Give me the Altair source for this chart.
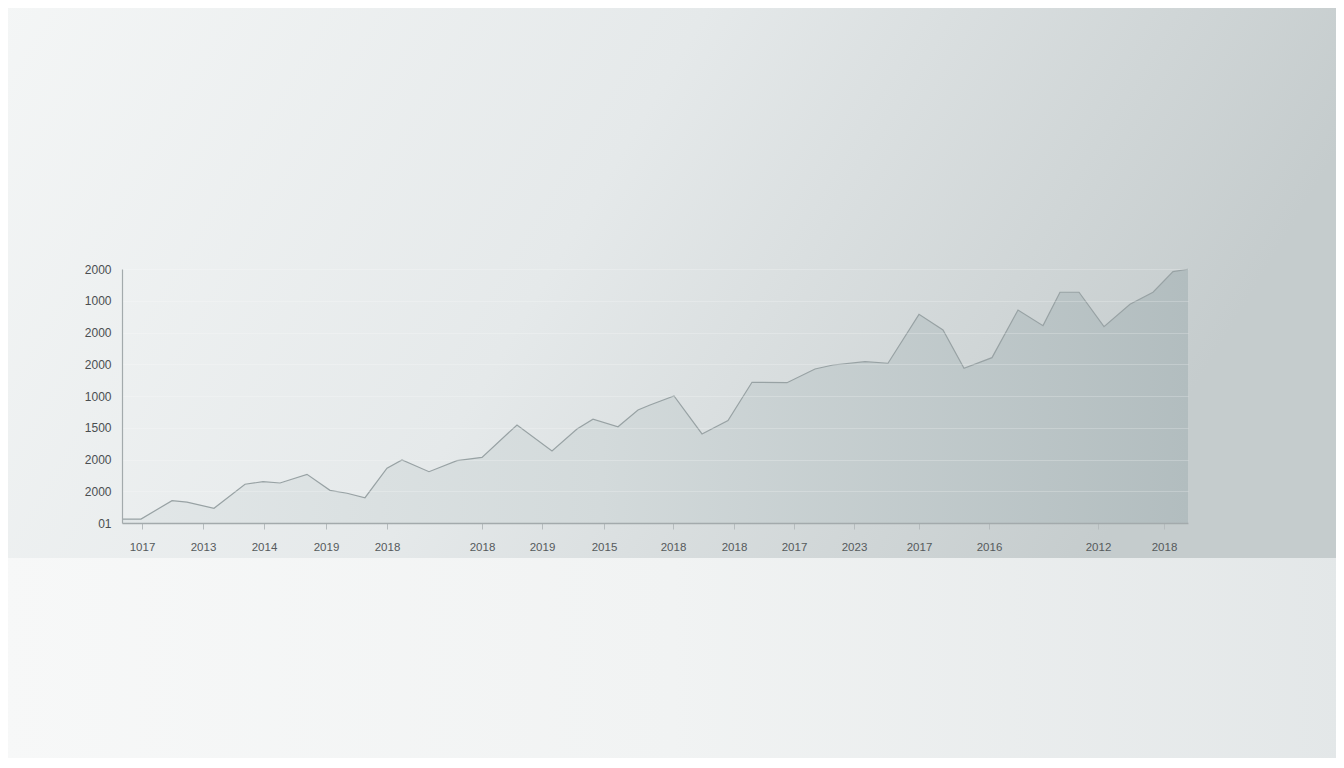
import altair as alt
import pandas as pd

# ---- data ----
x_pos = [0, 19, 50, 65, 92, 123, 141, 158, 185, 208, 225, 243, 265, 280, 307,
         335, 360, 395, 430, 455, 471, 496, 516, 528, 552, 580, 606, 630, 665,
         693, 711, 743, 766, 797, 821, 842, 870, 896, 921, 938, 957, 982, 1008,
         1031, 1051, 1066]
values = [31, 31, 176, 165, 116, 305, 325, 315, 383, 257, 234, 199, 431, 496, 404,
          491, 517, 772, 567, 740, 817, 758, 890, 929, 1000, 701, 806, 1108, 1105,
          1213, 1244, 1270, 1258, 1643, 1520, 1218, 1302, 1677, 1554, 1817, 1817,
          1546, 1722, 1817, 1979, 1998]

x_tick_pos = [20, 81, 142, 204, 265, 360, 420, 482, 551, 612, 672, 732, 797, 867, 976, 1042]
x_tick_labels = ["1017", "2013", "2014", "2019", "2018", "2018", "2019", "2015",
                 "2018", "2018", "2017", "2023", "2017", "2016", "2012", "2018"]

y_tick_vals = [0, 250, 500, 750, 1000, 1250, 1500, 1750, 2000]
y_tick_labels = ["01", "2000", "2000", "1500", "1000", "2000", "2000", "1000", "2000"]

df = pd.DataFrame({"t": x_pos, "v": values})

W, H = 1066, 254
PAD = {"left": 114, "top": 261, "right": 148, "bottom": 235}

def js_list(items):
    return "[" + ",".join(repr(i) if isinstance(i, str) else str(i) for i in items) + "]"

x_label_expr = f"{js_list(x_tick_labels)}[indexof({js_list(x_tick_pos)}, datum.value)]"
y_label_expr = f"{js_list(y_tick_labels)}[indexof({js_list(y_tick_vals)}, datum.value)]"

wall_grad = alt.Gradient(
    gradient="linear", x1=0, y1=0, x2=1, y2=0.25,
    stops=[alt.GradientStop(color="#f4f6f6", offset=0),
           alt.GradientStop(color="#e5e9ea", offset=0.5),
           alt.GradientStop(color="#c5cccd", offset=1)])
floor_grad = alt.Gradient(
    gradient="linear", x1=0, y1=0, x2=1, y2=0,
    stops=[alt.GradientStop(color="#f7f8f8", offset=0),
           alt.GradientStop(color="#f1f3f3", offset=0.5),
           alt.GradientStop(color="#e3e7e8", offset=1)])
area_grad = alt.Gradient(
    gradient="linear", x1=0, y1=0, x2=1, y2=0,
    stops=[alt.GradientStop(color="#e2e7e8", offset=0),
           alt.GradientStop(color="#d3dadb", offset=0.45),
           alt.GradientStop(color="#b2bdbf", offset=1)])

bg_src = pd.DataFrame({"k": [0]})
wall = alt.Chart(bg_src).mark_rect(color=wall_grad).encode(
    x=alt.value(-PAD["left"] - 10), x2=alt.value(W + PAD["right"] + 10),
    y=alt.value(-PAD["top"] - 10), y2=alt.value(289))
floor = alt.Chart(bg_src).mark_rect(color=floor_grad).encode(
    x=alt.value(-PAD["left"] - 10), x2=alt.value(W + PAD["right"] + 10),
    y=alt.value(289), y2=alt.value(H + PAD["bottom"] + 10))

area = alt.Chart(df).mark_area(
    color=area_grad, opacity=1,
    line={"color": "#98a2a4", "strokeWidth": 1.2},
).encode(
    x=alt.X("t:Q", scale=alt.Scale(domain=[0, 1066], nice=False, zero=False),
            axis=alt.Axis(values=x_tick_pos, labelExpr=x_label_expr, title=None,
                          grid=False, tickSize=6, tickColor="#b5bbbd",
                          domainColor="#a3aaac", domainWidth=1.5,
                          labelFont="Liberation Sans", labelFontSize=11.5,
                          labelColor="#555a5c", labelPadding=12, zindex=1,
                          labelOverlap=False, labelFlush=False)),
    y=alt.Y("v:Q", scale=alt.Scale(domain=[0, 2000], nice=False),
            axis=alt.Axis(values=y_tick_vals, labelExpr=y_label_expr, title=None,
                          ticks=False, grid=True, gridColor="#ffffff",
                          gridOpacity=0.22, gridWidth=1,
                          domainColor="#a3aaac", domainWidth=1.2,
                          labelFont="Liberation Sans", labelFontSize=12,
                          labelColor="#4a4e50", labelPadding=11, zindex=1,
                          labelOverlap=False)),
)

chart = alt.layer(wall, floor, area).properties(
    width=W, height=H,
    autosize=alt.AutoSizeParams(type="none"),
    padding=PAD,
    background="#e6eaeb",
).configure_view(stroke=None)

chart.save("out.html", embed_options={"renderer": "svg", "actions": False})
